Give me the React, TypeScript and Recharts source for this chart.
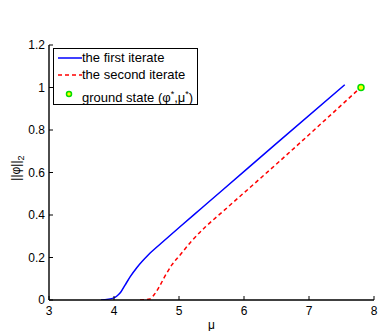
import {
  ComposedChart,
  Line,
  Scatter,
  XAxis,
  YAxis,
} from 'recharts'

const FONT = '"Liberation Sans", Arial, sans-serif'

const X_TICKS = [3, 4, 5, 6, 7, 8]
const Y_TICKS = [0, 0.2, 0.4, 0.6, 0.8, 1, 1.2]

// first iterate (blue solid)
const FIRST_MU = [3.8, 4.0, 4.05, 4.1, 4.17, 4.25, 4.35, 4.53, 4.73, 5.02, 5.35, 5.68, 6.5, 7.55]
const FIRST_NORM = [0, 0.01, 0.02, 0.035, 0.07, 0.11, 0.152, 0.213, 0.268, 0.346, 0.433, 0.52, 0.737, 1.013]

// second iterate (red dashed)
const SECOND_MU = [4.4, 4.55, 4.63, 4.71, 4.78, 4.89, 5.02, 5.19, 5.4, 5.68, 6.5, 7.78]
const SECOND_NORM = [0, 0.005, 0.03, 0.07, 0.11, 0.165, 0.213, 0.276, 0.342, 0.418, 0.64, 0.996]

// ground state
const GROUND_MU = [7.8]
const GROUND_NORM = [1.0]

const LEGEND_LABELS = ['the first iterate', 'the second iterate']

const firstData = FIRST_MU.map((x, i) => ({ x, y: FIRST_NORM[i] }))
const secondData = SECOND_MU.map((x, i) => ({ x, y: SECOND_NORM[i] }))
const groundData = GROUND_MU.map((x, i) => ({ x, y: GROUND_NORM[i] }))

const tickStyle = { fontSize: 12, fill: '#000', fontFamily: FONT }
const axisLine = { stroke: '#000', strokeWidth: 1.4 }

function GroundDot(props: any) {
  const { cx, cy } = props
  return <circle cx={cx} cy={cy} r={3} fill="#ffff00" stroke="#00dd00" strokeWidth={1.5} />
}

export default function App() {
  return (
    <div style={{ position: 'absolute', left: 0, top: 0, width: 378, height: 331, background: '#fff', fontFamily: FONT }}>
      <ComposedChart width={378} height={331} margin={{ top: 45, right: 4, bottom: 0, left: 0 }}>
        <XAxis
          dataKey="x"
          type="number"
          domain={[3, 8]}
          ticks={X_TICKS}
          interval={0}
          allowDataOverflow
          stroke="#000"
          axisLine={axisLine}
          tickSize={-4}
          tickMargin={10}
          tick={tickStyle}
          height={31}
          label={{ value: 'μ', position: 'insideBottom', offset: 2, fontSize: 12, fill: '#000', fontFamily: FONT }}
        />
        <XAxis
          xAxisId="top"
          orientation="top"
          type="number"
          domain={[3, 8]}
          ticks={X_TICKS}
          interval={0}
          stroke="#000"
          axisLine={axisLine}
          tickSize={-4}
          tickFormatter={() => ''}
          height={0}
        />
        <YAxis
          type="number"
          domain={[0, 1.2]}
          ticks={Y_TICKS}
          interval={0}
          allowDataOverflow
          stroke="#000"
          axisLine={axisLine}
          tickSize={-4}
          tickMargin={8}
          tick={tickStyle}
          width={49}
          label={{
            content: () => (
              <text
                x={20}
                y={168}
                transform="rotate(-90 20 168)"
                textAnchor="middle"
                fontSize={12}
                fontFamily={FONT}
                fill="#000"
              >
                ||φ||<tspan fontSize={9} dy={4}>2</tspan>
              </text>
            ),
          }}
        />
        <YAxis
          yAxisId="right"
          orientation="right"
          type="number"
          domain={[0, 1.2]}
          ticks={Y_TICKS}
          interval={0}
          stroke="#000"
          axisLine={axisLine}
          tickSize={-4}
          tickFormatter={() => ''}
          width={0}
        />
        <Line
          data={firstData}
          dataKey="y"
          type="monotone"
          stroke="#0000ff"
          strokeWidth={1.5}
          dot={false}
          isAnimationActive={false}
        />
        <Line
          data={secondData}
          dataKey="y"
          type="monotone"
          stroke="#ff0000"
          strokeWidth={1.5}
          strokeDasharray="4 3"
          dot={false}
          isAnimationActive={false}
        />
        <Scatter data={groundData} dataKey="y" shape={GroundDot} isAnimationActive={false} />
      </ComposedChart>
      <div
        style={{
          position: 'absolute',
          left: 53,
          top: 48,
          width: 143,
          height: 55,
          border: '1px solid #000',
          background: '#fff',
          fontSize: 13,
          color: '#000',
          lineHeight: '16px',
        }}
      >
        <div style={{ position: 'absolute', left: 4, top: 1, display: 'flex', alignItems: 'center' }}>
          <svg width={24} height={16}>
            <line x1={0} y1={8} x2={24} y2={8} stroke="#0000ff" strokeWidth={1.5} />
          </svg>
          <span>{LEGEND_LABELS[0]}</span>
        </div>
        <div style={{ position: 'absolute', left: 4, top: 18, display: 'flex', alignItems: 'center' }}>
          <svg width={24} height={16}>
            <line x1={0} y1={8} x2={24} y2={8} stroke="#ff0000" strokeWidth={1.5} strokeDasharray="4 3" />
          </svg>
          <span>{LEGEND_LABELS[1]}</span>
        </div>
        <div style={{ position: 'absolute', left: 4, top: 37, display: 'flex', alignItems: 'center' }}>
          <svg width={24} height={16}>
            <circle cx={11} cy={6} r={2.5} fill="#ffff00" stroke="#00dd00" strokeWidth={1.5} />
          </svg>
          <span>
            ground state (φ<sup style={{ fontSize: 9 }}>*</sup>,μ<sup style={{ fontSize: 9 }}>*</sup>)
          </span>
        </div>
      </div>
    </div>
  )
}
